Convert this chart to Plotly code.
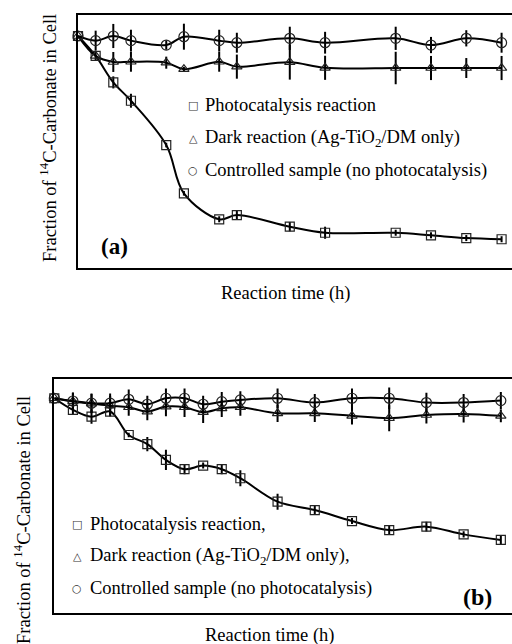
import plotly.graph_objects as go

W, H = 512, 644

# ---- data (a) ----
t_a = [0, 1, 2, 3, 5, 6, 8, 9, 12, 14, 18, 20, 22, 24]
photo_a = [1.0, 0.914, 0.80, 0.721, 0.53, 0.322, 0.21, 0.228, 0.178, 0.152, 0.152, 0.141, 0.129, 0.124]
photo_err_a = [0, 0.02, 0.026, 0.03, 0.01, 0.01, 0.013, 0.02, 0.02, 0.026, 0.013, 0.013, 0.013, 0.013]
dark_a = [1.0, 0.914, 0.888, 0.889, 0.885, 0.857, 0.889, 0.868, 0.887, 0.863, 0.862, 0.862, 0.862, 0.862]
dark_err_a = [0, 0.0, 0.043, 0.043, 0.026, 0.01, 0.043, 0.052, 0.075, 0.052, 0.07, 0.052, 0.043, 0.052]
ctrl_a = [1.0, 0.98, 1.0, 0.98, 0.961, 0.997, 0.98, 0.971, 0.99, 0.971, 0.99, 0.961, 0.99, 0.971]
ctrl_err_a = [0, 0.043, 0.052, 0.047, 0.02, 0.056, 0.047, 0.043, 0.05, 0.047, 0.05, 0.035, 0.035, 0.043]

# ---- data (b) ----
t_b = [0, 1, 2, 3, 4, 5, 6, 7, 8, 9, 10, 12, 14, 16, 18, 20, 22, 24]
photo_b = [1.0, 0.946, 0.914, 0.938, 0.829, 0.787, 0.713, 0.670, 0.687, 0.670, 0.628,
           0.519, 0.480, 0.429, 0.387, 0.403, 0.367, 0.341]
photo_err_b = [0, 0.023, 0.033, 0.023, 0.01, 0.033, 0.047, 0.023, 0.014, 0.023, 0.037,
               0.037, 0.023, 0.014, 0.023, 0.023, 0.014, 0.019]
dark_b = [1.0, 0.985, 0.975, 0.965, 0.958, 0.938, 0.961, 0.958, 0.935, 0.953, 0.958,
          0.93, 0.93, 0.918, 0.907, 0.922, 0.927, 0.918]
dark_err_b = [0, 0.04, 0.045, 0.045, 0.04, 0.04, 0.045, 0.045, 0.05, 0.04, 0.04,
              0.04, 0.04, 0.04, 0.06, 0.04, 0.04, 0.03]
ctrl_b = [1.0, 0.987, 0.977, 0.977, 0.995, 0.972, 1.0, 1.0, 0.972, 0.984, 0.992,
          1.0, 0.98, 1.0, 1.0, 0.98, 0.98, 0.989]
ctrl_err_b = [0, 0.04, 0.045, 0.045, 0.045, 0.04, 0.045, 0.045, 0.04, 0.045, 0.04,
              0.045, 0.04, 0.045, 0.05, 0.045, 0.04, 0.04]

legend_a = ["Photocatalysis reaction", "Dark reaction (Ag-TiO<sub>2</sub>/DM only)",
            "Controlled sample (no photocatalysis)"]
legend_b = ["Photocatalysis reaction,", "Dark reaction (Ag-TiO<sub>2</sub>/DM only),",
            "Controlled sample (no photocatalysis)"]
symbols_txt = ["□", "△", "○"]
ytitle = "Fraction of <sup>14</sup>C-Carbonate in Cell"
xtitle = "Reaction time (h)"

FONT = "Liberation Serif"

fig = go.Figure()

def add_series(x, y, err, sym, size, xa, ya):
    fig.add_trace(go.Scatter(
        x=x, y=y, mode="lines+markers", xaxis=xa, yaxis=ya,
        line=dict(color="black", width=2, shape="spline", smoothing=1.0),
        marker=dict(symbol=sym, size=size, color="#222", line=dict(width=1.2, color="#222")),
        error_y=dict(type="data", array=err, visible=True, color="black", thickness=2, width=0),
        cliponaxis=False, showlegend=False))

add_series(t_a, photo_a, photo_err_a, "square-open", 9, "x", "y")
add_series(t_a, dark_a, dark_err_a, "triangle-up-open", 9, "x", "y")
add_series(t_a, ctrl_a, ctrl_err_a, "circle-open", 10, "x", "y")
add_series(t_b, photo_b, photo_err_b, "square-open", 9, "x2", "y2")
add_series(t_b, dark_b, dark_err_b, "triangle-up-open", 9, "x2", "y2")
add_series(t_b, ctrl_b, ctrl_err_b, "circle-open", 10, "x2", "y2")

def px(x): return x / W
def py(y): return 1 - y / H

axcommon = dict(showgrid=False, zeroline=False, showticklabels=False, ticks="",
                showline=True, linecolor="black", linewidth=2)

fig.update_layout(
    width=W, height=H, margin=dict(l=0, r=0, t=0, b=0),
    paper_bgcolor="white", plot_bgcolor="white",
    xaxis=dict(domain=[px(78), 1], range=[0, 24.59], mirror=True, anchor="y", **axcommon),
    yaxis=dict(domain=[py(268), py(15)], range=[0, 1.0905], mirror=False, anchor="x", **axcommon),
    xaxis2=dict(domain=[px(54.3), 1], range=[0, 24.6], mirror=True, anchor="y2", **axcommon),
    yaxis2=dict(domain=[py(613.3), py(379.3)], range=[0, 1.088], mirror=False, anchor="x2", **axcommon),
)

ann = []
def text(x, y, s, size=18.5, family=FONT, color="black", **kw):
    d = dict(x=px(x), y=py(y), xref="paper", yref="paper", text=s, showarrow=False,
             font=dict(family=family, size=size, color=color))
    d.update(kw)
    ann.append(d)

# legends (a)
for i, (sym, lab) in enumerate(zip(symbols_txt, legend_a)):
    yy = [105, 138, 170][i]
    text(193, yy, sym, size=11, family="DejaVu Sans", color="#333",
         xanchor="center", yanchor="middle")
    text(203, yy, lab, xanchor="left", yanchor="middle")
# legends (b)
for i, (sym, lab) in enumerate(zip(symbols_txt, legend_b)):
    yy = [524, 556, 588][i]
    text(77, yy, sym, size=11, family="DejaVu Sans", color="#333",
         xanchor="center", yanchor="middle")
    text(88, yy, lab, xanchor="left", yanchor="middle")

text(285.5, 293, xtitle, xanchor="center", yanchor="middle")
text(269, 635, xtitle, xanchor="center", yanchor="middle")
text(48, 138, ytitle, textangle=-90, xanchor="center", yanchor="middle")
text(22, 520, ytitle, textangle=-90, xanchor="center", yanchor="middle")
text(114, 247, "<b>(a)</b>", size=23, xanchor="center", yanchor="middle")
text(477, 597, "<b>(b)</b>", size=24, xanchor="center", yanchor="middle")

fig.update_layout(annotations=ann)
fig.write_html("out.html")
